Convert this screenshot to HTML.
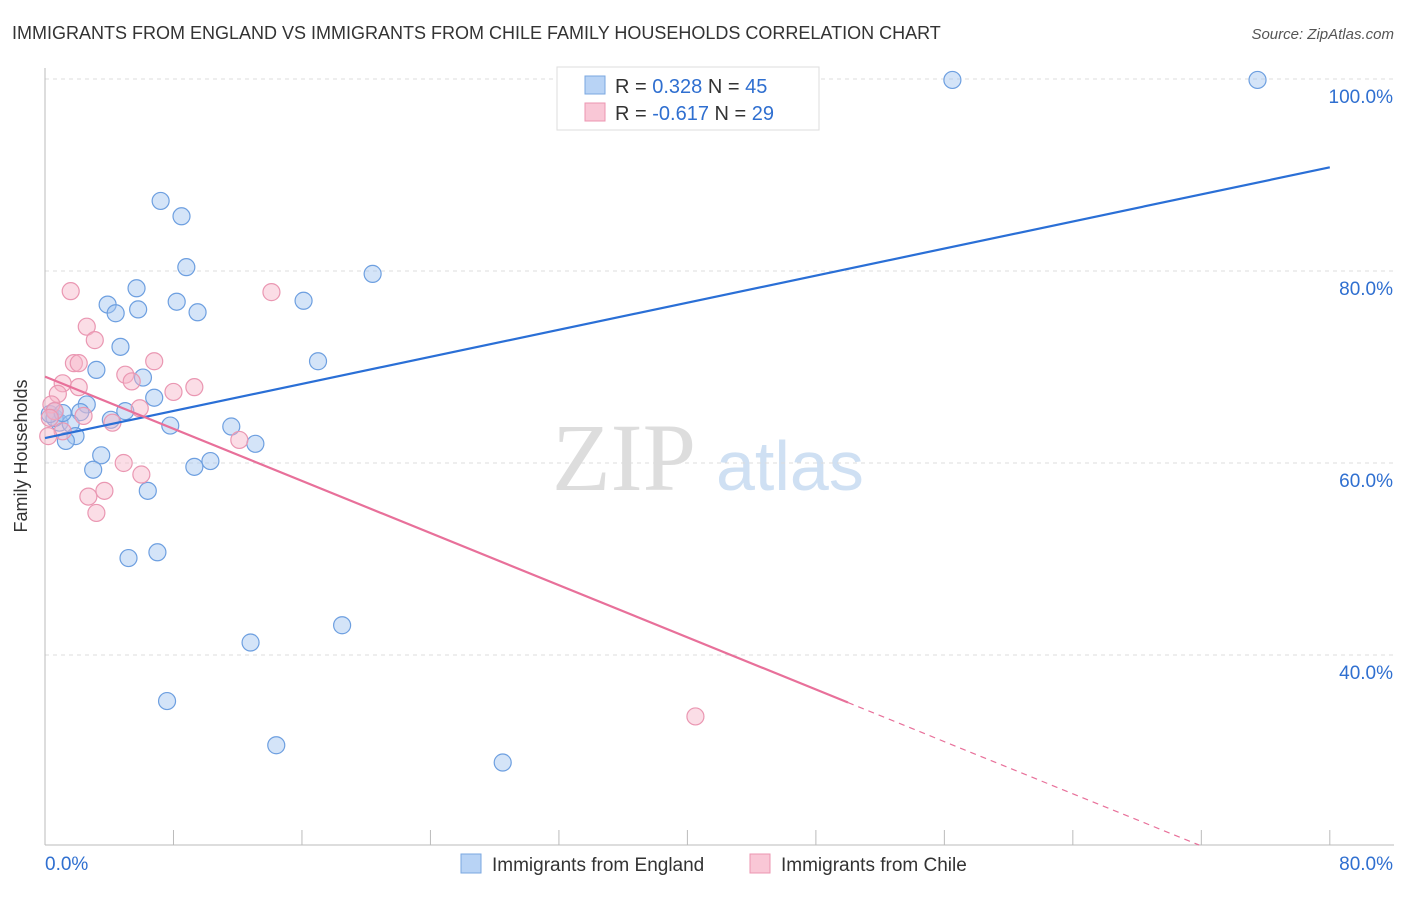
<!DOCTYPE html>
<html><head><meta charset="utf-8"><style>
body{margin:0;background:#fff;font-family:"Liberation Sans",sans-serif;}
</style></head><body>
<svg id="chart" width="1406" height="892" xmlns="http://www.w3.org/2000/svg">
<text x="12" y="39" font-size="18" fill="#333">IMMIGRANTS FROM ENGLAND VS IMMIGRANTS FROM CHILE FAMILY HOUSEHOLDS CORRELATION CHART</text>
<text x="1394" y="39" font-size="15" fill="#555" font-style="italic" text-anchor="end">Source: ZipAtlas.com</text>
<g>
<text x="552" y="490" font-size="96" fill="#ddd" font-family="Liberation Serif,serif">ZIP</text>
<text x="716" y="490" font-size="70" fill="#cfe0f3">atlas</text>
</g>
<g id="grid"></g><g id="axes"></g><g id="pts"></g><g id="lines"></g>
<text x="27" y="456" font-size="18" fill="#333" text-anchor="middle" transform="rotate(-90 27 456)">Family Households</text>
<g>
<rect x="557" y="67" width="262" height="63" fill="#fff" stroke="#ddd"/>
<rect x="585" y="76" width="20" height="18" fill="#b8d3f5" stroke="#7aa7e0"/>
<rect x="585" y="103" width="20" height="18" fill="#f9c7d6" stroke="#ec95b0"/>
<text x="615" y="93" font-size="20" fill="#333">R = <tspan fill="#2f6fd0">0.328</tspan>   N = <tspan fill="#2f6fd0">45</tspan></text>
<text x="615" y="120" font-size="20" fill="#333">R = <tspan fill="#2f6fd0">-0.617</tspan>   N = <tspan fill="#2f6fd0">29</tspan></text>
</g>
<g>
<rect x="461" y="854" width="20" height="19" fill="#b8d3f5" stroke="#7aa7e0"/>
<text x="492" y="871" font-size="19" fill="#333">Immigrants from England</text>
<rect x="750" y="854" width="20" height="19" fill="#f9c7d6" stroke="#ec95b0"/>
<text x="781" y="871" font-size="19" fill="#333">Immigrants from Chile</text>
</g>
</svg>
<script>
const englandX=[56.5,75.5,7.2,8.5,8.8,20.4,5.7,3.9,8.2,4.4,5.8,9.5,16.1,4.7,17.0,3.2,6.1,6.8,2.6,5.0,2.2,4.1,7.8,11.6,0.9,0.6,1.6,1.9,1.3,13.1,3.5,10.3,9.3,3.0,6.4,7.0,5.2,18.5,12.8,7.6,14.4,28.5,0.3,0.6,1.1];
const englandY=[99.9,99.9,87.3,85.7,80.4,79.7,78.2,76.5,76.8,75.6,76.0,75.7,76.9,72.1,70.6,69.7,68.9,66.8,66.1,65.4,65.3,64.5,63.9,63.8,64.2,64.7,64.1,62.8,62.3,62.0,60.8,60.2,59.6,59.3,57.1,50.7,50.1,43.1,41.3,35.2,30.6,28.8,65.1,65.4,65.2];
const chileX=[1.6,14.1,2.6,3.1,1.8,2.1,6.8,5.0,1.1,5.4,2.1,9.3,8.0,0.8,5.9,0.4,0.6,2.4,4.2,1.1,0.2,12.1,4.9,6.0,3.7,2.7,3.2,40.5,0.3];
const chileY=[77.9,77.8,74.2,72.8,70.4,70.4,70.6,69.2,68.3,68.5,67.9,67.9,67.4,67.2,65.7,66.1,65.4,64.9,64.2,63.3,62.8,62.4,60.0,58.8,57.1,56.5,54.8,33.6,64.7];
const englandTrend=[62.6,90.8];
const chileTrend=[69.0,-0.679,50.0];
const yTicks=[40,60,80,100];
const xTickLabels=["0.0%","80.0%"];
const NS="http://www.w3.org/2000/svg";
const sx=v=>45+v*16.06, sy=v=>79+(100-v)*9.6;
function mk(tag,attrs,parent){const e=document.createElementNS(NS,tag);for(const k in attrs)e.setAttribute(k,attrs[k]);document.getElementById(parent).appendChild(e);return e;}
yTicks.forEach(t=>{
 const g=mk('line',{x1:45,x2:1394,y1:sy(t),y2:sy(t),stroke:'#ddd','stroke-dasharray':'4 4'},'grid');
 
 
 const l=mk('text',{x:1393,y:sy(t)+24,'font-size':19,fill:'#2f6fd0','text-anchor':'end'},'grid');
 l.textContent=t.toFixed(1)+'%';
 
 
});
const ax=mk('line',{x1:45,x2:45,y1:68,y2:845,stroke:'#bbb'},'axes');


const bx=mk('line',{x1:45,x2:1394,y1:845,y2:845,stroke:'#bbb'},'axes');


for(let i=0;i<=10;i++){const t=mk('line',{x1:sx(i*8),x2:sx(i*8),y1:830,y2:845,stroke:'#bbb'},'axes');
 
 }
const xl0=mk('text',{x:45,y:870,'font-size':19,fill:'#2f6fd0'},'axes');xl0.textContent=xTickLabels[0];


const xl1=mk('text',{x:1393,y:870,'font-size':19,fill:'#2f6fd0','text-anchor':'end'},'axes');xl1.textContent=xTickLabels[1];


englandX.forEach((x,i)=>{const c=mk('circle',{cx:sx(x),cy:sy(englandY[i]),r:8.5,fill:'rgba(160,196,240,0.45)',stroke:'#6d9fe0','stroke-width':1.2},'pts');
 
 });
chileX.forEach((x,i)=>{const c=mk('circle',{cx:sx(x),cy:sy(chileY[i]),r:8.5,fill:'rgba(246,180,200,0.45)',stroke:'#ea97b2','stroke-width':1.2},'pts');
 
 });
const bl=mk('line',{x1:sx(0),y1:sy(englandTrend[0]),x2:sx(80),y2:sy(englandTrend[1]),stroke:'#2a6fd6','stroke-width':2.2},'lines');


const cy=x=>chileTrend[0]+chileTrend[1]*x;
const xEnd=(20.2-chileTrend[0])/chileTrend[1];
const pl=mk('line',{x1:sx(0),y1:sy(cy(0)),x2:sx(chileTrend[2]),y2:sy(cy(chileTrend[2])),stroke:'#e8709a','stroke-width':2.2},'lines');


const pd=mk('line',{x1:sx(chileTrend[2]),y1:sy(cy(chileTrend[2])),x2:sx(xEnd),y2:sy(cy(xEnd)),stroke:'#e8709a','stroke-width':1.2,'stroke-dasharray':'6 5'},'lines');


</script>
</body></html>
